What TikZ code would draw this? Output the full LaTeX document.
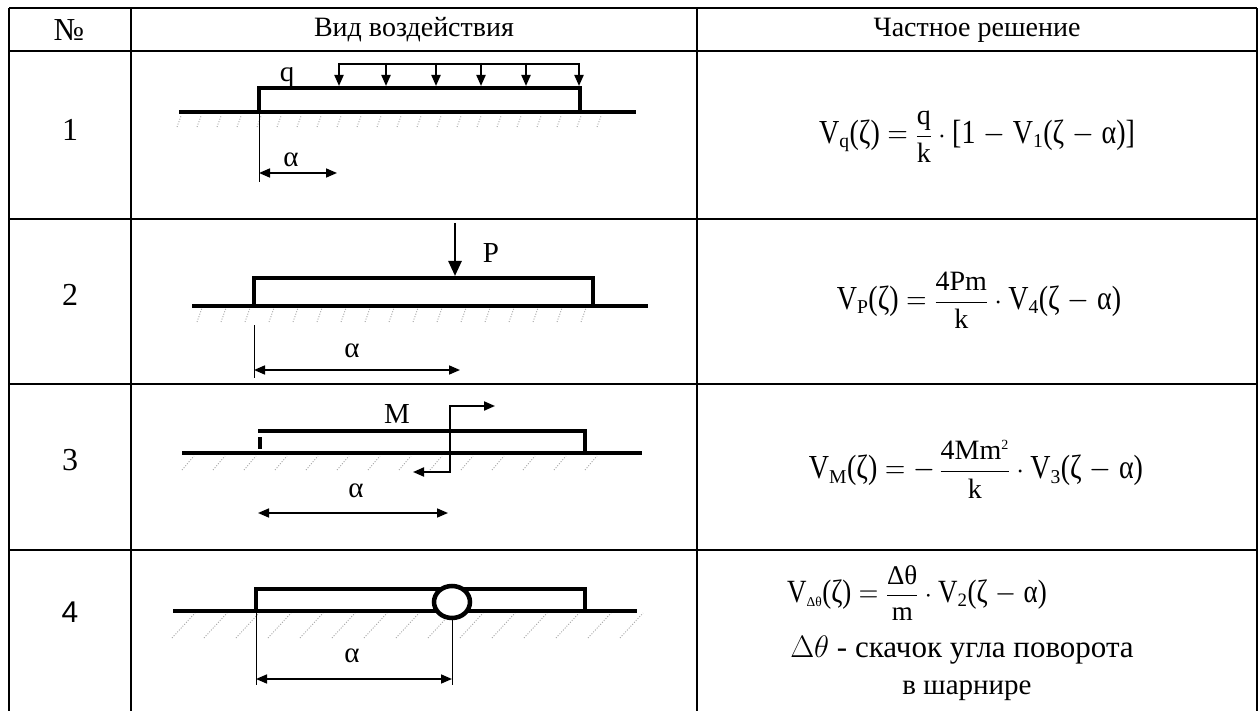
\RequirePackage{fix-cm}
\documentclass[tikz,border=0pt]{standalone}
\usepackage{amsmath}
\usepackage{graphicx}
\usepackage{fontspec}
\setmainfont{Liberation Serif}
\newfontfamily\sansf{Liberation Sans}
\usetikzlibrary{arrows.meta}
\newcommand{\T}[1]{\scalebox{1}[1.2]{#1}}
\newcommand{\Sb}[1]{_{\scriptstyle\text{#1}}}
\tikzset{
  tbl/.style={line width=1.8pt},
  ground/.style={line width=4.5pt},
  beam/.style={line width=4.5pt},
  load/.style={line width=2pt},
  ext/.style={line width=1pt},
  dim/.style={line width=1.6pt,{Triangle[length=11pt,width=9pt]}-{Triangle[length=11pt,width=9pt]}},
  hatch/.style={gray!70,line width=0.9pt,dash pattern=on 1pt off 1.6pt},
  head/.style={font=\fontsize{28}{32}\selectfont},
  num/.style={font=\fontsize{32}{36}\selectfont},
  lbl/.style={font=\fontsize{29}{34}\selectfont,inner sep=0pt},
  formula/.style={font=\fontsize{28}{34}\selectfont,inner sep=0pt},
  note/.style={font=\fontsize{31}{34}\selectfont,inner sep=0pt},
}
\begin{document}
\begin{tikzpicture}[x=1pt,y=-1pt]
\useasboundingbox (0,0) rectangle (1258,711);
% table
\foreach \yy in {8,51,219,384,550} \draw[tbl] (9,\yy) -- (1257,\yy);
\foreach \xx in {9,131,697,1257} \draw[tbl] (\xx,8) -- (\xx,711);
% header
\node[head,font=\fontsize{32}{34}\selectfont] (h1) at (69,30) {№};
\node[head] (h2) at (414,30) {Вид воздействия};
\node[head] (h3) at (977,30) {Частное решение};
% numbers
\node[num] (n1) at (70,130) {1};
\node[num] (n2) at (70,295) {2};
\node[num] (n3) at (70,460) {3};
\node[num,font=\sansf\fontsize{30}{34}\selectfont] (n4) at (70,612) {4};

% ---------- row 1
\foreach \x in {177,197,...,613} \draw[hatch] (\x,127) -- (\x+4,116);
\draw[ground] (179,112) -- (636,112);
\draw[beam] (259,112) -- (259,88) -- (580,88) -- (580,112);
\draw[load] (339,64) -- (579,64);
\foreach \x in {339,386,436,481,526,579}
  \draw[load,-{Triangle[length=11pt,width=9pt]}] (\x,63) -- (\x,86);
\node[lbl,anchor=base] (q) at (287,82) {q};
\coordinate (a1s) at (259,173);
\coordinate (a1e) at (337,173);
\draw[ext] (259,112) -- (259,182);
\draw[dim] (a1s) -- (a1e);
\node[lbl] (al1) at (291,160) {α};

% ---------- row 2
\foreach \x in {197,221,...,603} \draw[hatch] (\x,322) -- (\x+5,308);
\draw[ground] (192,306) -- (648,306);
\draw[beam] (254,306) -- (254,278) -- (593,278) -- (593,306);
\draw[line width=2.5pt,-{Triangle[length=15pt,width=13pt]}] (455,223) -- (455,276);
\node[lbl,anchor=base] (P) at (491,263) {P};
\coordinate (a2s) at (254,370);
\coordinate (a2e) at (460,370);
\draw[ext] (254,325) -- (254,378);
\draw[dim] (a2s) -- (a2e);
\node[lbl] (al2) at (352,351) {α};

% ---------- row 3
\foreach \x in {182,213,...,600} \draw[hatch] (\x,470) -- (\x+12,456);
\draw[ground] (182,453) -- (642,453);
\draw[beam] (258,431) -- (585,431) -- (585,453);
\draw[beam] (260,437) -- (260,449);
\draw[load,{Triangle[length=11pt,width=9pt]}-{Triangle[length=11pt,width=9pt]}]
  (413,472) -- (450,472) -- (450,406) -- (495,406);
\node[lbl,anchor=base] (M) at (397,423) {M};
\coordinate (a3s) at (258,513);
\coordinate (a3e) at (448,513);
\draw[dim] (a3s) -- (a3e);
\node[lbl] (al3) at (356,491) {α};

% ---------- row 4
\foreach \x in {172,204,...,620} \draw[hatch] (\x,638) -- (\x+23,613);
\draw[ground] (173,611) -- (637,611);
\draw[beam] (256,611) -- (256,589) -- (585,589) -- (585,611);
\draw[line width=4.5pt,fill=white] (452,602) ellipse [x radius=18pt,y radius=16pt];
\coordinate (a4s) at (256,679);
\coordinate (a4e) at (452,679);
\draw[ext] (256,611) -- (256,685);
\draw[ext] (452,620) -- (452,685);
\draw[dim] (a4s) -- (a4e);
\node[lbl] (al4) at (352,656) {α};

% ---------- formulas
\node[formula] (f1) at (977,137)
  {$\T{V}\Sb{q}\T{(ζ)}\;\T{$=$}\;\dfrac{\text{q}}{\text{k}}\cdot\T{[1}\;\T{$-$}\;\T{V}\Sb{1}\T{(ζ}\;\T{$-$}\;\T{α)]}$};
\node[formula] (f2) at (979,300)
  {$\T{V}\Sb{P}\T{(ζ)}\;\T{$=$}\;\dfrac{\text{4Pm}}{\text{k}}\cdot\T{V}\Sb{4}\T{(ζ}\;\T{$-$}\;\T{α)}$};
\node[formula] (f3) at (976,469)
  {$\T{V}\Sb{M}\T{(ζ)}\;\T{$=$}\;\T{$-$}\,\dfrac{\text{4Mm}^{\scriptscriptstyle\text{2}}}{\text{k}}\cdot\T{V}\Sb{3}\T{(ζ}\;\T{$-$}\;\T{α)}$};
\node[formula,font=\fontsize{27}{32}\selectfont] (f4) at (917,593)
  {$\T{V}_{\scriptscriptstyle\text{Δθ}}\T{(ζ)}\;\T{$=$}\;\dfrac{\text{Δθ}}{\text{m}}\cdot\T{V}\Sb{2}\T{(ζ}\;\T{$-$}\;\T{α)}$};
\node[note] (t1) at (962,650) {$\Delta\theta$ - скачок угла поворота};
\node[note,font=\fontsize{29}{32}\selectfont] (t2) at (967,691) {в шарнире};
\end{tikzpicture}
\end{document}
